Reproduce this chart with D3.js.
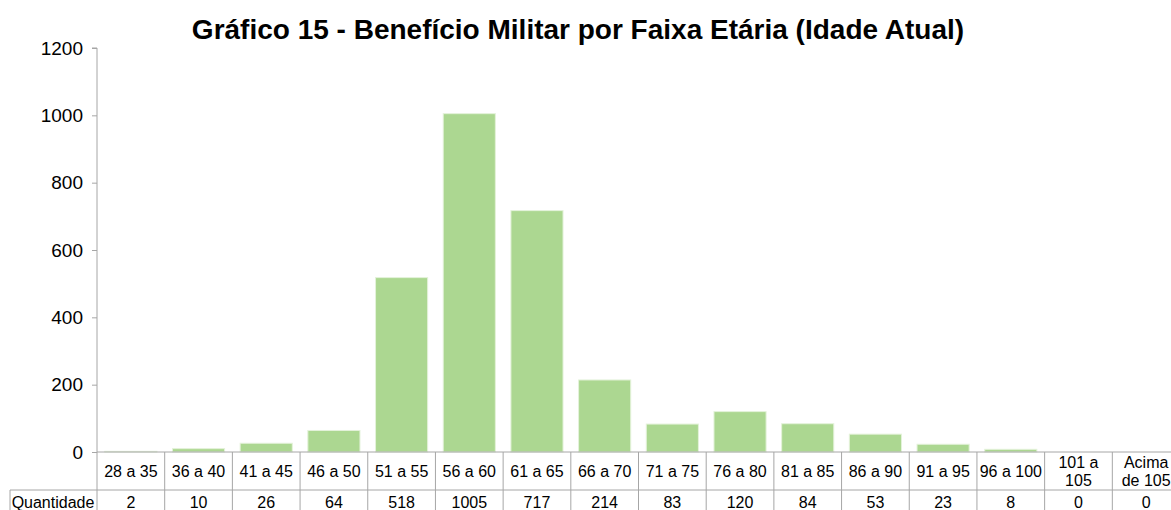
<!DOCTYPE html>
<html>
<head>
<meta charset="utf-8">
<script src="https://cdn.jsdelivr.net/npm/d3@7"></script>
<style>
body { margin: 0; background: #fff; overflow: hidden; }
text { font-family: "Liberation Sans", Arial, sans-serif; fill: #000; }
</style>
</head>
<body>
<div id="chart"></div>
<script>
var width = 1171;
var height = 510;

var categories = ["28 a 35","36 a 40","41 a 45","46 a 50","51 a 55","56 a 60","61 a 65","66 a 70",
                  "71 a 75","76 a 80","81 a 85","86 a 90","91 a 95","96 a 100","101 a 105","Acima de 105"];
// two-line labels for the narrow cells
var categoryLines = {"101 a 105": ["101 a", "105"], "Acima de 105": ["Acima", "de 105"]};
var quantidade = [2,10,26,64,518,1005,717,214,83,120,84,53,23,8,0,0];
var yTicks = [0,200,400,600,800,1000,1200];
var title = "Gráfico 15 - Benefício Militar por Faixa Etária (Idade Atual)";
var seriesName = "Quantidade";

// the plot runs a little past the right edge of the picture (cropped in the original)
var mLeft = 97, mRight = 1180, mTop = 48, mBottom = 452;
var row1 = 490;   // line between category row and value row
var gridColor = "#a6a6a6";

var svg = d3.select("#chart").append("svg")
    .attr("width", width)
    .attr("height", height);

var x = d3.scaleBand().domain(categories).range([mLeft, mRight]).padding(0);
var y = d3.scaleLinear().domain([0, 1200]).range([mBottom, mTop]);

// title
svg.append("text")
    .attr("x", 578)
    .attr("y", 39)
    .attr("text-anchor", "middle")
    .style("font-size", "28px")
    .style("font-weight", "bold")
    .text(title);

// y axis
var yAxis = d3.axisLeft(y).tickValues(yTicks).tickSize(5).tickPadding(9).tickFormat(d3.format("d"));
var gy = svg.append("g").attr("transform", "translate(" + mLeft + ",0)").call(yAxis);
gy.select(".domain").attr("stroke", gridColor).attr("d", "M-5," + mTop + "H0V" + mBottom);
gy.selectAll(".tick line").attr("stroke", gridColor);
gy.selectAll(".tick text").style("font-size", "19px").attr("font-family", null);

// bars
var barW = x.bandwidth() * 0.77;
svg.selectAll("rect.bar")
    .data(quantidade)
    .enter().append("rect")
    .attr("class", "bar")
    .attr("x", function(d, i) { return x(categories[i]) + (x.bandwidth() - barW) / 2; })
    .attr("y", function(d) { return y(d); })
    .attr("width", barW)
    .attr("height", function(d) { return mBottom - y(d); })
    .attr("fill", "#acd791")
    .attr("stroke", "#e4f2da")
    .attr("stroke-width", 1);

// data table
svg.append("line")
    .attr("x1", mLeft).attr("x2", mRight).attr("y1", mBottom).attr("y2", mBottom)
    .attr("stroke", gridColor);
svg.append("line")
    .attr("x1", 10).attr("x2", mRight).attr("y1", row1).attr("y2", row1)
    .attr("stroke", gridColor);
svg.append("line")
    .attr("x1", 10).attr("x2", 10).attr("y1", row1).attr("y2", height)
    .attr("stroke", gridColor);
svg.selectAll("line.vgrid")
    .data(categories)
    .enter().append("line")
    .attr("class", "vgrid")
    .attr("x1", function(d) { return x(d); })
    .attr("x2", function(d) { return x(d); })
    .attr("y1", mBottom)
    .attr("y2", height)
    .attr("stroke", gridColor);

// category labels
categories.forEach(function(c, i) {
    var cx = x(c) + x.bandwidth() / 2;
    var lines = categoryLines[c] || [c];
    var t = svg.append("text")
        .attr("text-anchor", "middle")
        .style("font-size", "16px");
    if (lines.length === 1) {
        t.attr("x", cx).attr("y", 477).text(c);
    } else {
        lines.forEach(function(l, k) {
            t.append("tspan").attr("x", cx).attr("y", 468 + k * 18).text(l);
        });
    }
});

// values row
svg.append("text")
    .attr("x", 53)
    .attr("y", 508)
    .attr("text-anchor", "middle")
    .style("font-size", "16px")
    .text(seriesName);
svg.selectAll("text.val")
    .data(quantidade)
    .enter().append("text")
    .attr("class", "val")
    .attr("x", function(d, i) { return x(categories[i]) + x.bandwidth() / 2; })
    .attr("y", 508)
    .attr("text-anchor", "middle")
    .style("font-size", "16px")
    .text(function(d) { return d; });
</script>
</body>
</html>
